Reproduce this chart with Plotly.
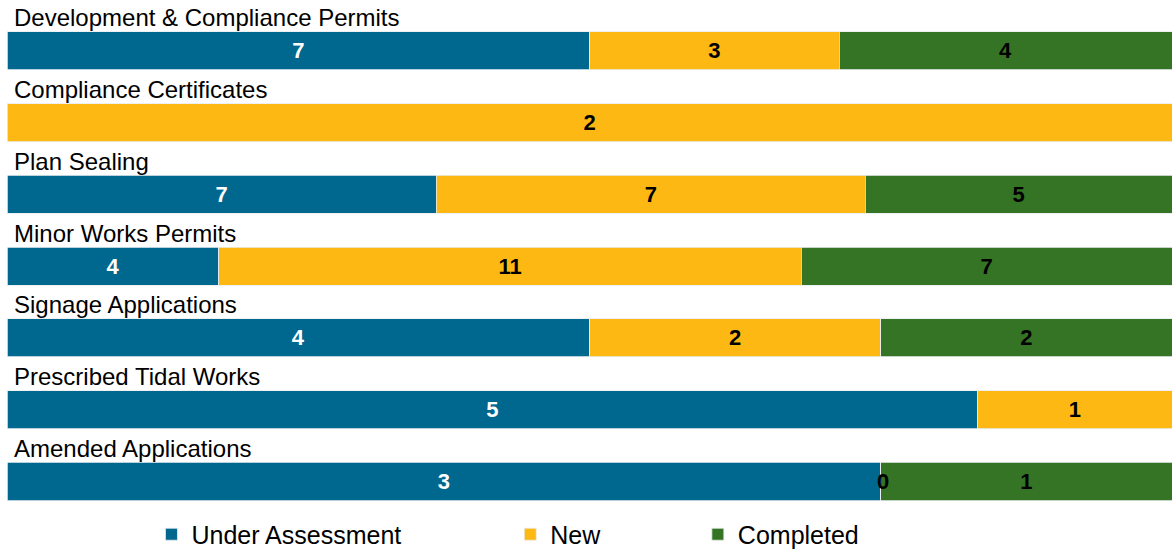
import plotly.graph_objects as go

categories = ['Development & Compliance Permits', 'Compliance Certificates', 'Plan Sealing',
              'Minor Works Permits', 'Signage Applications', 'Prescribed Tidal Works',
              'Amended Applications']
under_assessment = [7, None, 7, 4, 4, 5, 3]
new = [3, 2, 7, 11, 2, 1, 0]
completed = [4, None, 5, 7, 2, None, 1]

series = [
    ('Under Assessment', under_assessment, '#00678F', 'white'),
    ('New', new, '#FDB813', 'black'),
    ('Completed', completed, '#347424', 'black'),
]
legend_pos = {'Under Assessment': 0.124, 'New': 0.432, 'Completed': 0.593}
num_font = dict(family='Liberation Sans, Arial', size=22, weight='bold')

fig = go.Figure()
for i, (name, vals, color, tcolor) in enumerate(series):
    legend_id = 'legend' if i == 0 else f'legend{i + 1}'
    fig.add_trace(go.Bar(
        y=categories, x=vals, name=name, orientation='h',
        marker=dict(color=color, line=dict(color='#e8eef0', width=0.8)),
        width=0.53,
        text=[('' if v is None else str(v)) for v in vals],
        textposition='inside', insidetextanchor='middle', textangle=0,
        constraintext='none',
        textfont=dict(color=tcolor, **num_font),
        legend=legend_id,
        hoverinfo='skip',
    ))

# zero-width segments still get their label, at the segment boundary
for k, cat in enumerate(categories):
    parts = [s[1][k] or 0 for s in series]
    total = sum(parts)
    for j, v in enumerate(parts):
        if series[j][1][k] == 0:
            fig.add_annotation(x=sum(parts[:j]) / total, y=cat, xref='x', yref='y', text='0',
                               showarrow=False, xshift=2, font=dict(color='black', **num_font))

# category titles sit above each bar
for cat in categories:
    fig.add_annotation(x=0, y=cat, xref='paper', yref='y', text=cat, showarrow=False,
                       xanchor='left', yanchor='middle', xshift=5, yshift=33,
                       font=dict(family='Liberation Sans, Arial', size=24, color='black'))

leg_style = dict(orientation='h', yref='container', yanchor='middle', y=0.03, xanchor='left',
                 font=dict(family='Liberation Sans, Arial', size=25, color='black'),
                 bgcolor='rgba(0,0,0,0)', itemclick=False, itemwidth=30)
fig.update_layout(
    width=1172, height=551,
    barmode='stack', barnorm='fraction',
    plot_bgcolor='white', paper_bgcolor='white',
    margin=dict(l=7, r=0, t=15, b=21, autoexpand=False),
    xaxis=dict(range=[0, 1], visible=False, fixedrange=True),
    yaxis=dict(autorange='reversed', visible=False, fixedrange=True),
    legend=dict(x=legend_pos['Under Assessment'], **leg_style),
    legend2=dict(x=legend_pos['New'], **leg_style),
    legend3=dict(x=legend_pos['Completed'], **leg_style),
    showlegend=True,
)

fig.write_html('out.html', config={'displayModeBar': False},
               post_script="document.body.style.margin='0';document.body.style.overflow='hidden';")
